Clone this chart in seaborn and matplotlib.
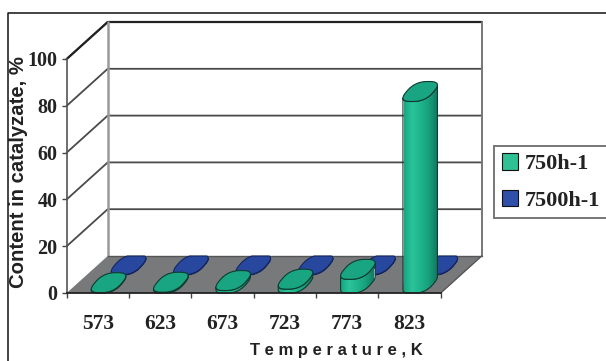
import numpy as np
import pandas as pd
import seaborn as sns
import matplotlib
matplotlib.use("Agg")
import matplotlib.pyplot as plt
from matplotlib.colors import LinearSegmentedColormap
from matplotlib.patches import Polygon, Rectangle
from matplotlib.lines import Line2D

categories = ["573", "623", "673", "723", "773", "823"]
series_750 = [0.3, 0.5, 1.2, 1.8, 6.0, 82.0]
series_7500 = [0.2, 0.2, 0.2, 0.2, 0.2, 0.2]
y_ticks = [0, 20, 40, 60, 80, 100]
legend_labels = ["750h-1", "7500h-1"]

W, H = 606, 361
sns.set_theme(style="white")
plt.rcParams["font.family"] = ["Liberation Serif", "DejaVu Serif"]

fig = plt.figure(figsize=(W / 100, H / 100), dpi=100, facecolor="white")
L, R, T, B = 66.7, 440.7, 59.0, 293.0
ax = fig.add_axes([L / W, 1 - B / H, (R - L) / W, (B - T) / H])
ax.patch.set_alpha(0)

PX = (R - L) / 6
PY = (B - T) / 100
DX = 41 / PX
DY = 37 / PY

df = pd.DataFrame({
    "T": categories * 2,
    "v": series_750 + series_7500,
    "s": [legend_labels[0]] * 6 + [legend_labels[1]] * 6,
})
GREEN = "#1fb58c"
BLUE = "#28479f"
sns.barplot(data=df, x="T", y="v", hue="s", dodge=False, width=0.51,
            palette=[GREEN, BLUE], ax=ax, legend=False, zorder=5, saturation=1)
ax.set_xlim(-0.5, 5.5)
ax.set_ylim(0, 100)
ax.set_xlabel("")
ax.set_ylabel("")

# floor and back wall
ax.add_patch(Polygon([(-0.5, 0), (5.5, 0), (5.5 + DX, DY), (-0.5 + DX, DY)],
                     closed=True, fc="#77797b", ec="none", zorder=1, clip_on=False))
for v in y_ticks[1:]:
    ax.plot([-0.5, -0.5 + DX, 5.5 + DX], [v, v + DY, v + DY], color="#4a4a4a",
            lw=1.3, zorder=0.5, clip_on=False, solid_joinstyle="miter")
ax.plot([-0.5, -0.5 + DX, 5.5 + DX], [100, 100 + DY, 100 + DY], color="#222222",
        lw=1.6, zorder=0.6, clip_on=False)
ax.plot([-0.5 + DX] * 2, [DY, 100 + DY], color="#9a9a9a", lw=1.8, zorder=0.7, clip_on=False)
ax.plot([5.5 + DX] * 2, [DY, 100 + DY], color="#777777", lw=1.4, zorder=0.7, clip_on=False)
ax.plot([5.5, 5.5 + DX], [0, DY], color="#555555", lw=1.0, zorder=1.1, clip_on=False)
ax.plot([-0.5 + DX, 5.5 + DX], [DY, DY], color="#555555", lw=1.0, zorder=1.1, clip_on=False)


def ring(cx, cy, n=80):
    t = np.linspace(0, 2 * np.pi, n)
    ux = 13.6 / PX
    vx, vy = 8.4 / PX, 10.0 / PY
    c, s = np.cos(t), np.sin(t)
    c = np.sign(c) * np.abs(c) ** 0.75
    s = np.sign(s) * np.abs(s) ** 0.75
    return cx + ux * c + vx * s, cy + vy * s


def hull(xa, ya, top):
    lo, hi = np.argmin(xa), np.argmax(xa)
    order = np.roll(np.arange(len(xa) - 1), -lo)
    pts = [(xa[i], ya[i]) for i in order]
    idx_hi = list(order).index(hi)
    lower = pts[:idx_hi + 1] if ya[order[1]] < ya[order[0]] else pts[idx_hi:] + pts[:1]
    if ya[order[1]] >= ya[order[0]]:
        lower = lower[::-1]
    upper = [(x, y + top) for x, y in lower[::-1]]
    return np.array(lower + upper)


depths = [0.26, 0.75]
maps = [
    LinearSegmentedColormap.from_list("g", ["#16a981", "#2cc39a", "#1fb58c", "#17a07c", "#127d62"]),
    LinearSegmentedColormap.from_list("b", ["#24409a", "#2f50ad", "#28479f", "#1f3a8a", "#182f73"]),
]
hw = 16.5 / PX
for k, cont in enumerate(ax.containers):
    z = 5 if k == 1 else 6
    d = depths[k]
    for bar in cont:
        cx = bar.get_x() + bar.get_width() / 2 + d * DX
        base = d * DY
        h = bar.get_height()
        bar.set_x(cx - bar.get_width() / 2)
        bar.set_y(base)
        bar.set_zorder(z)
        xa, ya = ring(cx, base)
        xb, yb = ring(cx, base + h)
        poly = hull(xa, ya, h)
        poly[:, 1] = np.maximum(poly[:, 1], 0)
        bar.set_clip_path(Polygon(poly, closed=True, transform=ax.transData))
        im = ax.imshow(np.linspace(0, 1, 64)[None, :], cmap=maps[k], aspect="auto",
                       extent=(cx - hw, cx + hw, 0, base + h + 8), zorder=z, origin="lower")
        im.set_clip_path(Polygon(poly, closed=True, transform=ax.transData))
        ax.add_patch(Polygon(poly, closed=True, fc="none", ec="#0d3b30" if k == 0 else "#14265e",
                             lw=0.8, zorder=z + 0.01, clip_on=False))
        yc = np.clip(yb, 0, DY) if k == 1 else np.maximum(yb, 0)
        ax.add_patch(Polygon(np.c_[xb, yc], closed=True,
                             fc="#1aa582" if k == 0 else BLUE,
                             ec="#0d3b30" if k == 0 else "#14265e",
                             lw=0.8, zorder=z + 0.02, clip_on=False))
ax.set_xlim(-0.5, 5.5)
ax.set_ylim(0, 100)

# axes
for s in ["top", "right"]:
    ax.spines[s].set_visible(False)
ax.spines["left"].set_color("#555555")
ax.spines["left"].set_linewidth(1.2)
ax.spines["bottom"].set_color("#222222")
ax.spines["bottom"].set_linewidth(1.3)
for s in ["left", "bottom"]:
    ax.spines[s].set_zorder(8)
ax.set_yticks(y_ticks)
ax.set_xticks(np.arange(6))
ax.set_xticklabels(categories)
ax.set_xticks(np.arange(7) - 0.5, minor=True)
ax.tick_params(axis="x", which="minor", length=3.5, width=1, color="#444444", bottom=True)
ax.tick_params(axis="x", which="major", length=0, pad=15, labelsize=15.5, labelcolor="#222222")
ax.tick_params(axis="y", length=3.5, width=1, color="#444444", left=True, pad=3,
               labelsize=14.5, labelcolor="#222222")
for t in ax.get_xticklabels() + ax.get_yticklabels():
    t.set_fontweight("bold")

sans = ["Liberation Sans", "DejaVu Sans"]
fig.text(18.5 / W, 1 - 172 / H, "Content in catalyzate, %", rotation=90, ha="center", va="center",
         family=sans, fontweight="bold", fontsize=14.6, color="#222222")
fig.text(336 / W, 1 - 350 / H, "T e m p e r a t u r e , K", ha="center", va="center",
         family=sans, fontweight="bold", fontsize=12, color="#222222")

# outer frame
fig.add_artist(Line2D([7.5 / W, 7.5 / W, 1], [0, 1 - 12.5 / H, 1 - 12.5 / H],
                      color="#111111", lw=1.1))

# legend
handles = [Rectangle((0, 0), 1, 1, fc="#2fc096", ec="#111111", lw=0.8),
           Rectangle((0, 0), 1, 1, fc="#2f50a8", ec="#111111", lw=0.8)]
leg = fig.legend(handles, legend_labels, loc="center left",
                 bbox_to_anchor=(494 / W, 1 - 182 / H), borderaxespad=0,
                 frameon=True, fancybox=False, edgecolor="#777777", framealpha=1,
                 prop={"weight": "bold", "size": 16}, handlelength=0.75, handleheight=0.75,
                 labelspacing=0.7, handletextpad=0.3, borderpad=0.35)
leg.get_frame().set_linewidth(1.4)
for t in leg.get_texts():
    t.set_color("#222222")

fig.savefig("out.png", dpi=100)
